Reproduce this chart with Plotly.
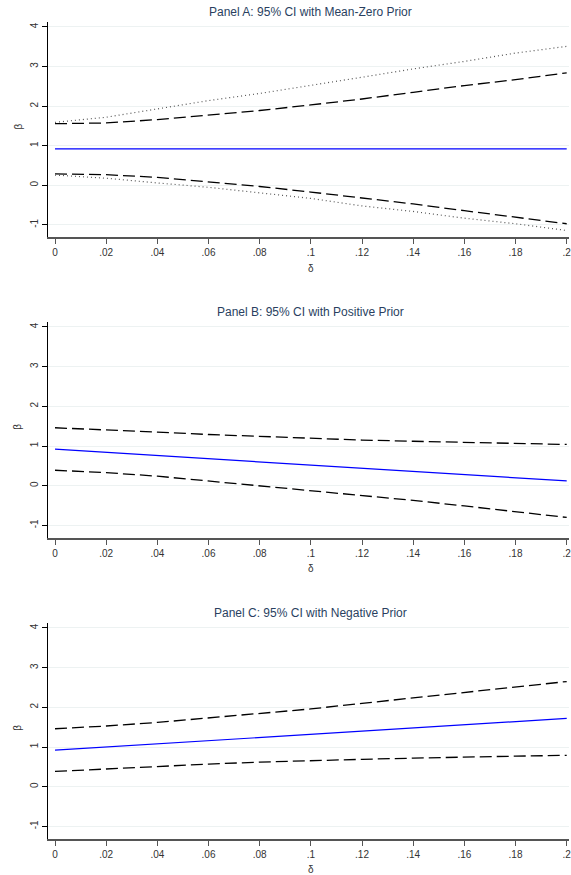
import plotly.graph_objects as go

# ---------------- data ----------------
delta = [0, 0.02, 0.04, 0.06, 0.08, 0.10, 0.12, 0.14, 0.16, 0.18, 0.20]

# Panel A: mean-zero prior
a_beta = [0.92, 0.92, 0.92, 0.92, 0.92, 0.92, 0.92, 0.92, 0.92, 0.92, 0.92]
a_dash_hi = [1.556, 1.575, 1.66, 1.77, 1.89, 2.03, 2.18, 2.35, 2.52, 2.67, 2.84]
a_dash_lo = [0.29, 0.27, 0.20, 0.09, -0.03, -0.17, -0.32, -0.47, -0.64, -0.80, -0.97]
a_dot_hi = [1.59, 1.72, 1.93, 2.14, 2.32, 2.52, 2.73, 2.94, 3.13, 3.34, 3.51]
a_dot_lo = [0.26, 0.18, 0.06, -0.05, -0.19, -0.33, -0.52, -0.66, -0.83, -0.97, -1.14]

# Panel B: positive prior
b_beta = [0.92, 0.84, 0.76, 0.68, 0.60, 0.52, 0.44, 0.36, 0.28, 0.20, 0.12]
b_hi = [1.46, 1.41, 1.35, 1.29, 1.24, 1.19, 1.15, 1.12, 1.09, 1.07, 1.04]
b_lo = [0.39, 0.33, 0.24, 0.12, 0.00, -0.13, -0.25, -0.37, -0.51, -0.65, -0.80]

# Panel C: negative prior
c_beta = [0.92, 1.00, 1.08, 1.16, 1.24, 1.32, 1.40, 1.48, 1.56, 1.64, 1.72]
c_hi = [1.46, 1.53, 1.62, 1.73, 1.84, 1.96, 2.10, 2.24, 2.38, 2.52, 2.65]
c_lo = [0.385, 0.45, 0.52, 0.57, 0.62, 0.66, 0.69, 0.72, 0.75, 0.77, 0.79]

titles = ["Panel A: 95% CI with Mean-Zero Prior",
          "Panel B: 95% CI with Positive Prior",
          "Panel C: 95% CI with Negative Prior"]
x_tickvals = [0, 0.02, 0.04, 0.06, 0.08, 0.10, 0.12, 0.14, 0.16, 0.18, 0.20]
x_ticktext = ["0", ".02", ".04", ".06", ".08", ".1", ".12", ".14", ".16", ".18", ".2"]
y_tickvals = [-1, 0, 1, 2, 3, 4]
y_ticktext = ["-1", "0", "1", "2", "3", "4"]

# ---------------- layout helpers ----------------
W, H = 571, 875
ML, MR = 48, 2
PW = W - ML - MR


def px_x(px):
    return (px - ML) / PW


def px_y(py):
    return 1 - py / H


panels = [  # (top px, bottom px)
    (22, 237),
    (322, 537.5),
    (623, 838.5),
]

FONT = "Arial, Liberation Sans, sans-serif"

fig = go.Figure()

series = [
    [(a_beta, "solid_blue"), (a_dash_hi, "dash"), (a_dash_lo, "dash"),
     (a_dot_hi, "dot"), (a_dot_lo, "dot")],
    [(b_beta, "solid_blue"), (b_hi, "dash"), (b_lo, "dash")],
    [(c_beta, "solid_blue"), (c_hi, "dash"), (c_lo, "dash")],
]

styles = {
    "solid_blue": dict(color="#0000ff", width=1.2, dash="solid"),
    "dash": dict(color="#000000", width=1.3, dash="12px,5px"),
    "dot": dict(color="#555555", width=1.2, dash="1px,3px"),
}

annotations = []
for i, (top, bot) in enumerate(panels):
    n = "" if i == 0 else str(i + 1)
    xa, ya = "x" + n, "y" + n
    for vals, st in series[i]:
        fig.add_trace(go.Scatter(x=delta, y=vals, mode="lines",
                                 line=styles[st], xaxis=xa, yaxis=ya,
                                 showlegend=False, hoverinfo="skip"))
    fig.layout["xaxis" + n] = dict(
        domain=[0, 1], anchor=ya, range=[-0.00274, 0.2009],
        tickvals=x_tickvals, ticktext=x_ticktext,
        showgrid=False, zeroline=False,
        showline=True, linecolor="#555555", linewidth=2,
        ticks="outside", ticklen=5, tickcolor="#555555", tickwidth=1,
        ticklabeloverflow="allow",
        tickfont=dict(family=FONT, size=10, color="#333333"),
    )
    fig.layout["yaxis" + n] = dict(
        domain=[px_y(bot), px_y(top)], anchor=xa, range=[-1.305, 4.125],
        tickvals=y_tickvals, ticktext=y_ticktext, tickangle=-90,
        showgrid=True, gridcolor="#edf2f2", gridwidth=1,
        zeroline=False,
        showline=True, linecolor="#000000", linewidth=1.5,
        ticks="outside", ticklen=5, tickcolor="#000000", tickwidth=1,
        tickfont=dict(family=FONT, size=10, color="#333333"),
    )
    # panel title
    annotations.append(dict(text=titles[i], xref="paper", yref="paper",
                            x=px_x(310), y=px_y(top - 10), showarrow=False,
                            xanchor="center", yanchor="middle",
                            font=dict(family=FONT, size=12, color="#2a3f5f")))
    # y axis title
    annotations.append(dict(text="β", xref="paper", yref="paper",
                            x=px_x(18), y=px_y((top + bot) / 2 - 3), showarrow=False,
                            xanchor="center", yanchor="middle", textangle=-90,
                            font=dict(family=FONT, size=10, color="#333333")))
    # x axis title
    annotations.append(dict(text="δ", xref="paper", yref="paper",
                            x=px_x(310.5), y=px_y(bot + 31), showarrow=False,
                            xanchor="center", yanchor="middle",
                            font=dict(family=FONT, size=10, color="#333333")))

fig.update_layout(
    width=W, height=H,
    margin=dict(l=ML, r=MR, t=0, b=0),
    paper_bgcolor="white", plot_bgcolor="white",
    annotations=annotations,
    showlegend=False,
)

fig.write_html(
    "out.html",
    config={"displayModeBar": False, "staticPlot": True},
    post_script="document.body.style.margin='0';document.body.style.overflow='hidden';",
)
